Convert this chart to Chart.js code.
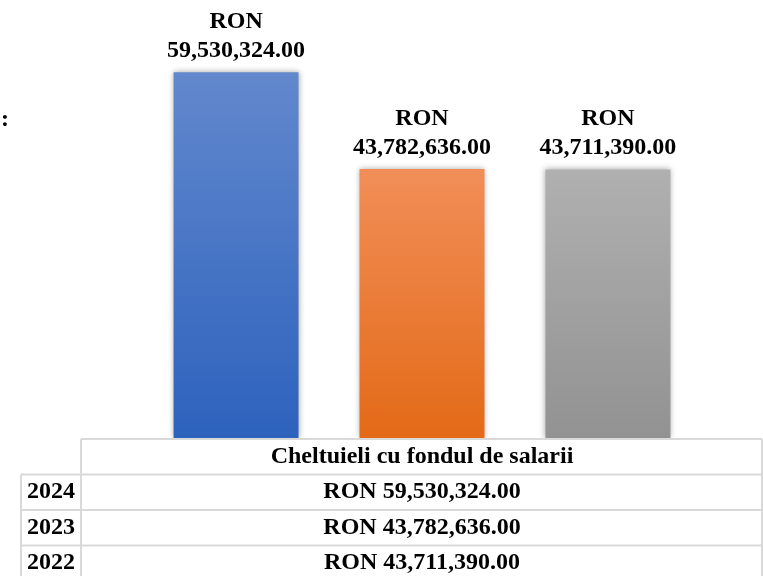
<!DOCTYPE html>
<html>
<head>
  <title>Cheltuieli cu fondul de salarii</title>
  <script src="https://cdn.jsdelivr.net/npm/chart.js@4.4.0/dist/chart.umd.min.js"></script>
  <style>
    body { margin: 0; background: #fff; }
  </style>
</head>
<body>
  <canvas id="chart" width="763" height="576"></canvas>
  <script>
    // data
    var categories = ["Cheltuieli cu fondul de salarii"];
    var years = ["2024", "2023", "2022"];
    var values = [59530324, 43782636, 43711390];

    // bar gradients, top colour then bottom colour
    var topColors = ["#6288cd", "#f18e58", "#b0b0b0"];
    var bottomColors = ["#2d62bd", "#e36a17", "#929292"];

    var font = "bold 24px 'Liberation Serif', 'Times New Roman', serif";

    function money(v) {
      return v.toLocaleString("en-US", { minimumFractionDigits: 2, maximumFractionDigits: 2 });
    }

    function gradientFor(i) {
      return function (context) {
        var chart = context.chart;
        if (!chart.chartArea) return topColors[i];
        var y = chart.scales.y;
        var top = y.getPixelForValue(values[i]);
        var base = y.getPixelForValue(0);
        var g = chart.ctx.createLinearGradient(0, top, 0, base);
        g.addColorStop(0, topColors[i]);
        g.addColorStop(1, bottomColors[i]);
        return g;
      };
    }

    var datasets = years.map(function (year, i) {
      return {
        label: year,
        data: [values[i]],
        backgroundColor: gradientFor(i),
        borderWidth: 0
      };
    });

    // soft shadow round each bar
    var shadowPlugin = {
      id: "shadow",
      beforeDatasetDraw: function (chart) {
        var ctx = chart.ctx;
        ctx.save();
        ctx.shadowColor = "rgba(0,0,0,0.35)";
        ctx.shadowBlur = 6;
        ctx.shadowOffsetX = 0;
        ctx.shadowOffsetY = 0;
      },
      afterDatasetDraw: function (chart) {
        chart.ctx.restore();
      }
    };

    // "RON" + value above each bar
    var labelPlugin = {
      id: "labels",
      afterDatasetsDraw: function (chart) {
        var ctx = chart.ctx;
        ctx.save();
        ctx.font = font;
        ctx.fillStyle = "#000";
        ctx.textAlign = "center";
        ctx.textBaseline = "alphabetic";
        chart.data.datasets.forEach(function (ds, i) {
          var bar = chart.getDatasetMeta(i).data[0];
          ctx.fillText("RON", bar.x, bar.y - 44);
          ctx.fillText(money(ds.data[0]), bar.x, bar.y - 15);
        });
        ctx.restore();
      }
    };

    // data table under the plot
    var tablePlugin = {
      id: "table",
      afterDraw: function (chart) {
        var ctx = chart.ctx;
        var area = chart.chartArea;
        var x = chart.scales.x;
        var left = area.left, right = chart.width - 1;
        var yearLeft = 21;
        var rowH = 35.5;
        var top = area.bottom + 1;
        var rows = years.length;

        ctx.save();
        ctx.strokeStyle = "#d9d9d9";
        ctx.lineWidth = 2;
        ctx.beginPath();
        // header top and right
        ctx.moveTo(left, top); ctx.lineTo(right, top);
        ctx.moveTo(right, top); ctx.lineTo(right, chart.height);
        // divider between years and values
        ctx.moveTo(left, top); ctx.lineTo(left, chart.height);
        ctx.moveTo(yearLeft, top + rowH); ctx.lineTo(yearLeft, chart.height);
        for (var r = 1; r <= rows; r++) {
          var yy = top + rowH * r;
          ctx.moveTo(yearLeft, yy); ctx.lineTo(right, yy);
        }
        ctx.stroke();

        ctx.font = font;
        ctx.fillStyle = "#000";
        ctx.textAlign = "center";
        ctx.textBaseline = "middle";
        var cx = x.getPixelForValue(0);
        ctx.fillText(categories[0], cx, top + rowH / 2);
        for (var i = 0; i < rows; i++) {
          var cy = top + rowH * (i + 1) + rowH / 2;
          ctx.fillText(years[i], (yearLeft + left) / 2, cy);
          ctx.fillText("RON " + money(values[i]), cx, cy);
        }

        ctx.textAlign = "left";
        ctx.textBaseline = "alphabetic";
        ctx.fillText(":", 1, 126);
        ctx.restore();
      }
    };

    new Chart(document.getElementById("chart").getContext("2d"), {
      type: "bar",
      data: { labels: categories, datasets: datasets },
      options: {
        responsive: false,
        animation: false,
        categoryPercentage: 0.818,
        barPercentage: 0.672,
        layout: { padding: { left: 81, right: 0, top: 8, bottom: 138 } },
        plugins: {
          legend: { display: false },
          tooltip: { enabled: false }
        },
        scales: {
          x: { display: false },
          y: { display: false, min: 0, max: 70000000 }
        }
      },
      plugins: [shadowPlugin, labelPlugin, tablePlugin]
    });
  </script>
</body>
</html>
